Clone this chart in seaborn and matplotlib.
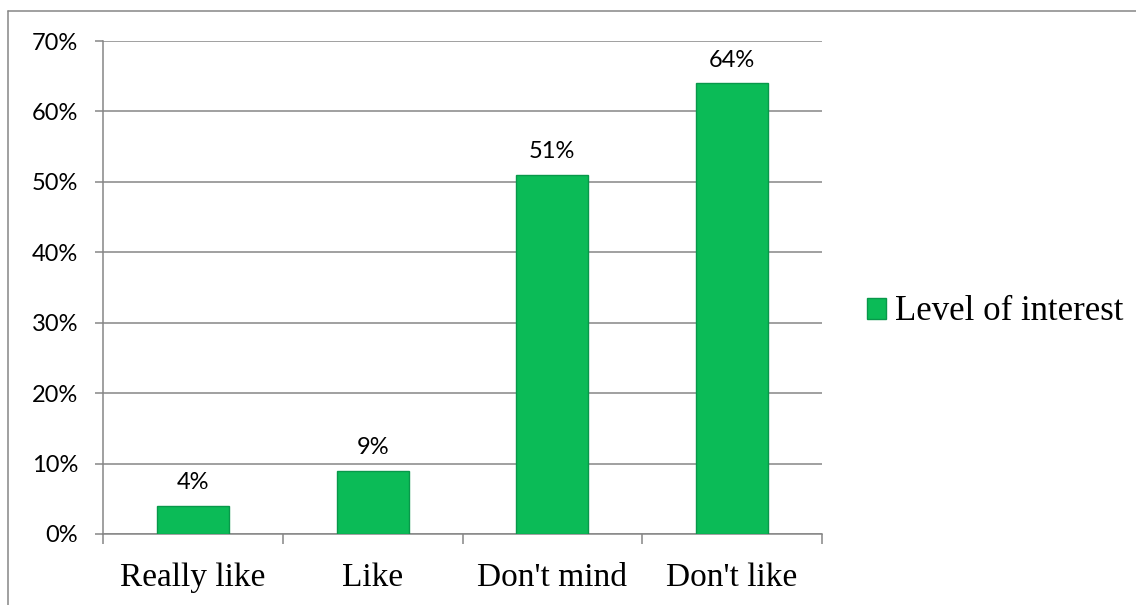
#!/usr/bin/env python3
"""Bar chart: level of interest per answer category."""

import matplotlib
matplotlib.use("Agg")
import matplotlib.pyplot as plt
from matplotlib.patches import Patch
from matplotlib.lines import Line2D
from matplotlib.ticker import PercentFormatter, FixedLocator
import pandas as pd
import seaborn as sns

# Data
categories = ["Really like", "Like", "Don't mind", "Don't like"]
values = [0.04, 0.09, 0.51, 0.64]
labels = ["4%", "9%", "51%", "64%"]
series_name = "Level of interest"

GREEN = "#0BBB57"
EDGE = "#08984A"
GRID = "#868686"

sns.set_style("white")
plt.rcParams["font.family"] = ["Lato", "DejaVu Sans"]
plt.rcParams["text.color"] = "black"
plt.rcParams["xtick.color"] = GRID
plt.rcParams["ytick.color"] = GRID
plt.rcParams["xtick.labelcolor"] = "black"
plt.rcParams["ytick.labelcolor"] = "black"

df = pd.DataFrame({"categorie": categories, "valeur": values})

fig = plt.figure(figsize=(11.36, 6.05), dpi=100)
ax = fig.add_axes([103 / 1136, 71 / 605, (822 - 103) / 1136, (534 - 41) / 605])

sns.barplot(data=df, x="categorie", y="valeur", color=GREEN, width=0.4,
            saturation=1, edgecolor=EDGE, linewidth=1.0, ax=ax, zorder=3)

ax.set_ylim(0, 0.7)
ax.set_xlim(-0.5, len(categories) - 0.5)
ax.yaxis.set_major_formatter(PercentFormatter(1.0, decimals=0))
ax.set_yticks([i / 10 for i in range(8)])
ax.yaxis.grid(True, color=GRID, linewidth=1.1, zorder=0)
ax.set_axisbelow(True)

# Spines
for s in ["top", "right"]:
    ax.spines[s].set_visible(False)
for s in ["left", "bottom"]:
    ax.spines[s].set_color(GRID)
    ax.spines[s].set_linewidth(1.1)

# Ticks
ax.tick_params(axis="y", left=True, length=6, width=1.1, labelsize=17, pad=12)
ax.tick_params(axis="x", which="major", bottom=False, labelsize=24, pad=17)
ax.xaxis.set_minor_locator(FixedLocator([i - 0.5 for i in range(len(categories) + 1)]))
ax.tick_params(axis="x", which="minor", bottom=True, length=7, width=1.1)
for t in ax.get_xticklabels():
    t.set_fontfamily("Liberation Serif")
ax.set_xlabel("")
ax.set_ylabel("")

# Data labels
for i, (v, lab) in enumerate(zip(values, labels)):
    ax.annotate(lab, (i, v), xytext=(0, 9), textcoords="offset points",
                ha="center", va="bottom", fontsize=17)

# Legend
handle = Patch(facecolor=GREEN, edgecolor=EDGE, linewidth=1.0)
leg = fig.legend([handle], [series_name], loc="center left",
                 bbox_to_anchor=(836 / 1136, 1 - 312 / 605), frameon=False,
                 prop={"family": "Liberation Serif", "size": 25},
                 handlelength=0.55, handleheight=0.55, handletextpad=0.25)

# Outer chart frame (left and top edges)
fig.add_artist(Line2D([8 / 1136, 8 / 1136], [0, 1 - 11 / 605], color=GRID, lw=1.1))
fig.add_artist(Line2D([8 / 1136, 1], [1 - 11 / 605, 1 - 11 / 605], color=GRID, lw=1.1))

fig.savefig("out.png", dpi=100)
plt.close(fig)
